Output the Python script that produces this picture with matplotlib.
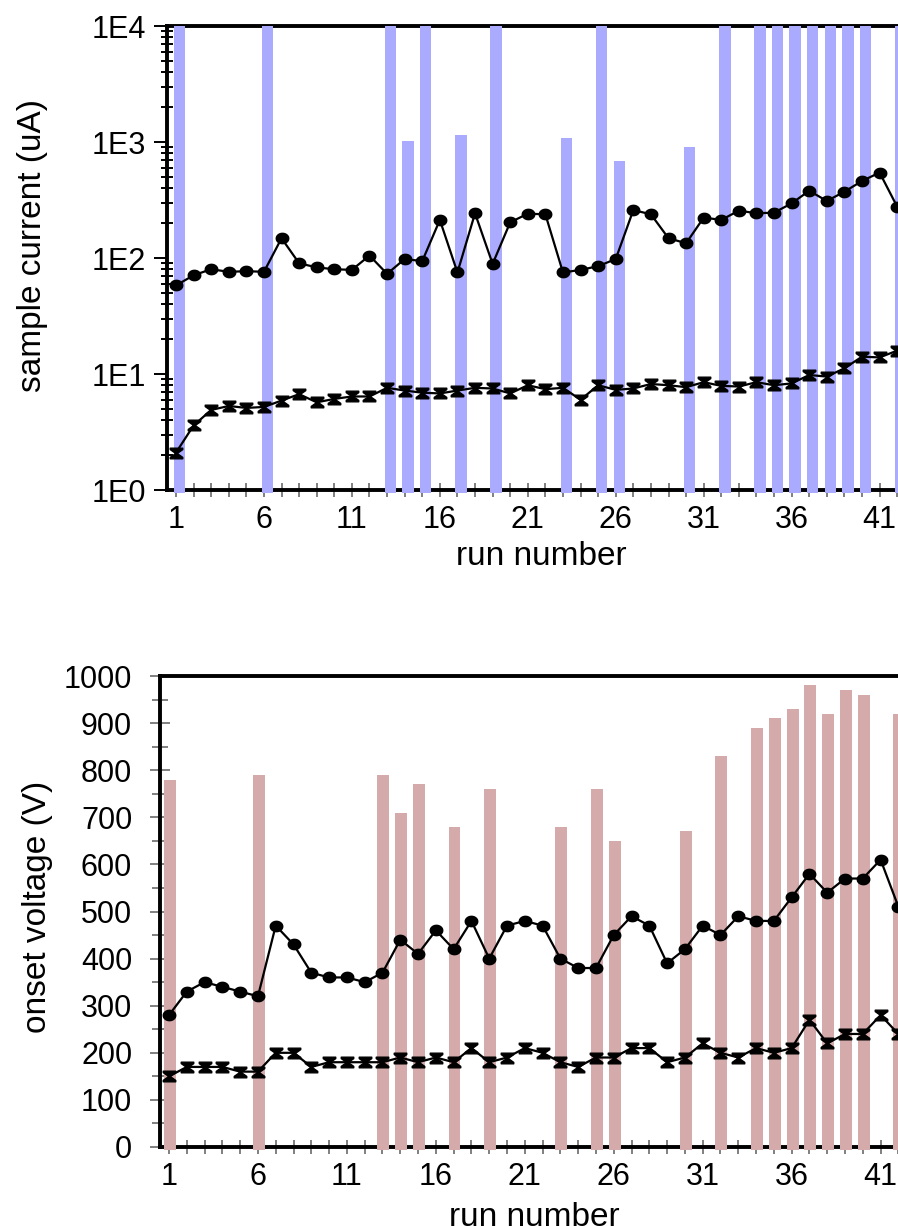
import numpy as np
import matplotlib
matplotlib.use("Agg")
import matplotlib.pyplot as plt
from matplotlib.path import Path
from matplotlib.ticker import FixedLocator, LogLocator, FuncFormatter, MultipleLocator

plt.rcParams['font.family'] = ['Liberation Sans', 'DejaVu Sans']
plt.rcParams['font.size'] = 22
plt.rcParams['axes.labelsize'] = 24

# run data
runs = np.arange(1, 43)
current_high = [58, 71, 80, 76, 77, 76, 148, 90, 83, 80, 79, 105, 73, 98, 94, 213, 75,
                243, 89, 203, 241, 238, 75, 79, 85, 98, 259, 238, 148, 134, 223, 213,
                256, 243, 246, 296, 380, 310, 373, 461, 545, 277]
current_low = [2.1, 3.6, 4.9, 5.3, 5.1, 5.2, 5.9, 6.7, 5.7, 6.1, 6.4, 6.4, 7.6, 7.2, 6.9,
               6.8, 7.2, 7.6, 7.5, 6.8, 8.0, 7.4, 7.6, 6.0, 8.0, 7.3, 7.5, 8.2, 8.0, 7.7,
               8.5, 7.9, 7.8, 8.5, 8.0, 8.3, 9.8, 9.5, 11.2, 14.1, 13.9, 15.9]
voltage_high = [280, 330, 350, 340, 330, 320, 470, 430, 370, 360, 360, 350, 370, 440, 410,
                460, 420, 480, 400, 470, 480, 470, 400, 380, 380, 450, 490, 470, 390, 420,
                470, 450, 490, 480, 480, 530, 580, 540, 570, 570, 610, 510]
voltage_low = [150, 170, 170, 170, 160, 160, 200, 200, 170, 180, 180, 180, 180, 190, 180,
               190, 180, 210, 180, 190, 210, 200, 180, 170, 190, 190, 210, 210, 180, 190,
               220, 200, 190, 210, 200, 210, 270, 220, 240, 240, 280, 240]

# runs with a breakdown event
bar_runs = [1, 6, 13, 14, 15, 17, 19, 23, 25, 26, 30, 32, 34, 35, 36, 37, 38, 39, 40, 42]
bar_current = [1e4, 1e4, 1e4, 1020, 1e4, 1140, 1e4, 1080, 1e4, 680, 900, 1e4,
               1e4, 1e4, 1e4, 1e4, 1e4, 1e4, 1e4, 1e4]
bar_voltage = [780, 790, 790, 710, 770, 680, 760, 680, 760, 650, 670, 830,
               890, 910, 930, 980, 920, 970, 960, 920]

# markers: filled ellipse and hourglass
t = np.linspace(0, 2 * np.pi, 40)
ellipse = Path(np.column_stack([np.cos(t), 0.83 * np.sin(t)]), closed=True)
hg = np.array([(-1, 0.85), (1, 0.85), (1, 0.62), (0.12, 0), (1, -0.62), (1, -0.85),
               (-1, -0.85), (-1, -0.62), (-0.12, 0), (-1, 0.62), (-1, 0.85)])
hourglass = Path(hg, closed=True)

W, H = 898, 1226
fig = plt.figure(figsize=(W / 100, H / 100), dpi=100)
ax1 = fig.add_axes([167 / W, (H - 490) / H, 749 / W, 464 / H])
ax2 = fig.add_axes([160 / W, (H - 1147) / H, 748 / W, 471 / H])

tick_grey = '#808080'

# sample current (log scale)
ax1.set_yscale('log')
ax1.bar(np.array(bar_runs) + 0.2, np.array(bar_current) - 0.94, bottom=0.94, width=0.65,
        color='#aaaaff', zorder=3, clip_on=False)
ax1.plot(runs, current_high, color='black', lw=1.6, marker=ellipse, ms=9, zorder=4)
ax1.plot(runs, current_low, color='black', lw=1.6, marker=hourglass, ms=9, zorder=4)
ax1.set_ylim(1, 1e4)
ax1.set_xlim(0.488, 43.07)
ax1.yaxis.set_major_locator(FixedLocator([1, 10, 100, 1000, 10000]))
ax1.yaxis.set_minor_locator(LogLocator(base=10, subs=np.arange(2, 10), numticks=20))
ax1.yaxis.set_major_formatter(FuncFormatter(lambda v, p: f"1E{int(round(np.log10(v)))}"))
ax1.yaxis.set_minor_formatter(FuncFormatter(lambda v, p: ""))
ax1.tick_params(axis='y', which='major', direction='out', length=9.5, width=1.4,
                color='black', pad=5.5)
ax1.tick_params(axis='y', which='minor', direction='inout', length=8, width=1.4,
                color='black')
ax1.set_ylabel('sample current (uA)')
ax1.yaxis.set_label_coords(-0.159, 0.528)

# onset voltage
ax2.bar(np.array(bar_runs) + 0.05, np.array(bar_voltage) + 6, bottom=-6, width=0.67,
        color='#d4aaaa', zorder=3, clip_on=False)
ax2.plot(runs, voltage_high, color='black', lw=1.6, marker=ellipse, ms=9, zorder=4)
ax2.plot(runs, voltage_low, color='black', lw=1.6, marker=hourglass, ms=9, zorder=4)
ax2.set_ylim(0, 1000)
ax2.set_xlim(0.494, 42.54)
ax2.yaxis.set_major_locator(MultipleLocator(100))
ax2.yaxis.set_minor_locator(MultipleLocator(50))
ax2.tick_params(axis='y', which='major', direction='inout', length=14, width=1.4,
                color=tick_grey, pad=13)
ax2.tick_params(axis='y', which='minor', direction='inout', length=11, width=1.4,
                color=tick_grey)
ax2.set_ylabel('onset voltage (V)')
ax2.yaxis.set_label_coords(-0.143, 0.51)

for ax, ly in ((ax1, -0.11), (ax2, -0.116)):
    ax.set_xticks(runs)
    ax.set_xticklabels([str(r) if (r - 1) % 5 == 0 else '' for r in runs])
    ax.tick_params(axis='x', direction='inout', length=10.6, width=1.4,
                   color=tick_grey, pad=5.5)
    ax.set_xlabel('run number', va='top')
    ax.xaxis.set_label_coords(0.5, ly)
    for side in ('left', 'top', 'bottom'):
        ax.spines[side].set_linewidth(2.8)
        ax.spines[side].set_color('black')
    ax.spines['right'].set_visible(False)

fig.savefig('out.png', dpi=100)
